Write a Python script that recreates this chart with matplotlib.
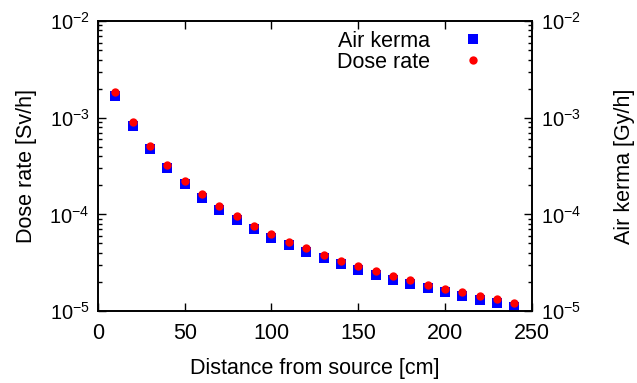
import matplotlib
matplotlib.use("Agg")
import matplotlib.pyplot as plt
from matplotlib.ticker import LogLocator, MultipleLocator, NullFormatter

# distance from source [cm]
distance = [10, 20, 30, 40, 50, 60, 70, 80, 90, 100, 110, 120,
            130, 140, 150, 160, 170, 180, 190, 200, 210, 220, 230, 240]

# dose rate [Sv/h]
dose_rate = [1.83e-3, 8.95e-4, 5.09e-4, 3.24e-4, 2.21e-4, 1.61e-4, 1.22e-4, 9.53e-5,
             7.62e-5, 6.25e-5, 5.20e-5, 4.45e-5, 3.82e-5, 3.31e-5, 2.90e-5, 2.59e-5,
             2.30e-5, 2.07e-5, 1.87e-5, 1.70e-5, 1.56e-5, 1.43e-5, 1.32e-5, 1.21e-5]

# air kerma [Gy/h]
air_kerma = [1.69e-3, 8.26e-4, 4.74e-4, 3.04e-4, 2.07e-4, 1.49e-4, 1.12e-4, 8.80e-5,
             7.05e-5, 5.73e-5, 4.81e-5, 4.10e-5, 3.56e-5, 3.06e-5, 2.65e-5, 2.37e-5,
             2.10e-5, 1.90e-5, 1.73e-5, 1.57e-5, 1.43e-5, 1.31e-5, 1.21e-5, 1.11e-5]

plt.rcParams["font.family"] = ["Liberation Sans", "DejaVu Sans"]
plt.rcParams["mathtext.fontset"] = "custom"
plt.rcParams["mathtext.rm"] = "Liberation Sans"
plt.rcParams["mathtext.it"] = "Liberation Sans:italic"
plt.rcParams["mathtext.bf"] = "Liberation Sans:bold"

fig = plt.figure(figsize=(6.37, 3.83), dpi=100)
ax = fig.add_axes([0.1538, 0.188, 0.681, 0.757])
ax2 = ax.twinx()

# air kerma belongs to right axis, drawn behind the dose points
ax2.plot(distance, air_kerma, linestyle="none", marker="s", markersize=7.2,
         color="#0000ff", markeredgewidth=0, label="Air kerma")
ax.plot(distance, dose_rate, linestyle="none", marker="o", markersize=6.0,
        color="#ff0000", markeredgewidth=0, label="Dose rate")
ax.set_zorder(ax2.get_zorder() + 1)
ax.patch.set_visible(False)

for a in (ax, ax2):
    a.set_yscale("log")
    a.set_ylim(1e-5, 1e-2)
    a.yaxis.set_major_locator(LogLocator(base=10, numticks=10))
    a.yaxis.set_minor_locator(LogLocator(base=10, subs=range(2, 10), numticks=10))
    a.yaxis.set_minor_formatter(NullFormatter())
    a.tick_params(which="major", direction="in", length=6, width=1, labelsize=14.5)
    a.tick_params(which="minor", direction="in", length=3, width=1)
    for s in a.spines.values():
        s.set_linewidth(1.2)

ax.set_xlim(0, 250)
ax.xaxis.set_major_locator(MultipleLocator(50))
ax.tick_params(axis="x", top=True, pad=9, labelsize=15.5)
ax.tick_params(axis="y", pad=6)
ax2.tick_params(axis="y", pad=7)

ax.set_xlabel("Distance from source [cm]", fontsize=15.5, labelpad=10)
ax.set_ylabel("Dose rate [Sv/h]", fontsize=15.5, labelpad=9)
ax2.set_ylabel("Air kerma [Gy/h]", fontsize=15.5, labelpad=23)

h1, l1 = ax2.get_legend_handles_labels()
h2, l2 = ax.get_legend_handles_labels()
ax.legend(h1 + h2, l1 + l2, loc="upper right", frameon=False, markerfirst=False,
          fontsize=15.5, handlelength=1.0, handletextpad=1.5, labelspacing=0.0,
          borderaxespad=0.0, bbox_to_anchor=(0.91, 0.997))

fig.savefig("out.png", dpi=100)
